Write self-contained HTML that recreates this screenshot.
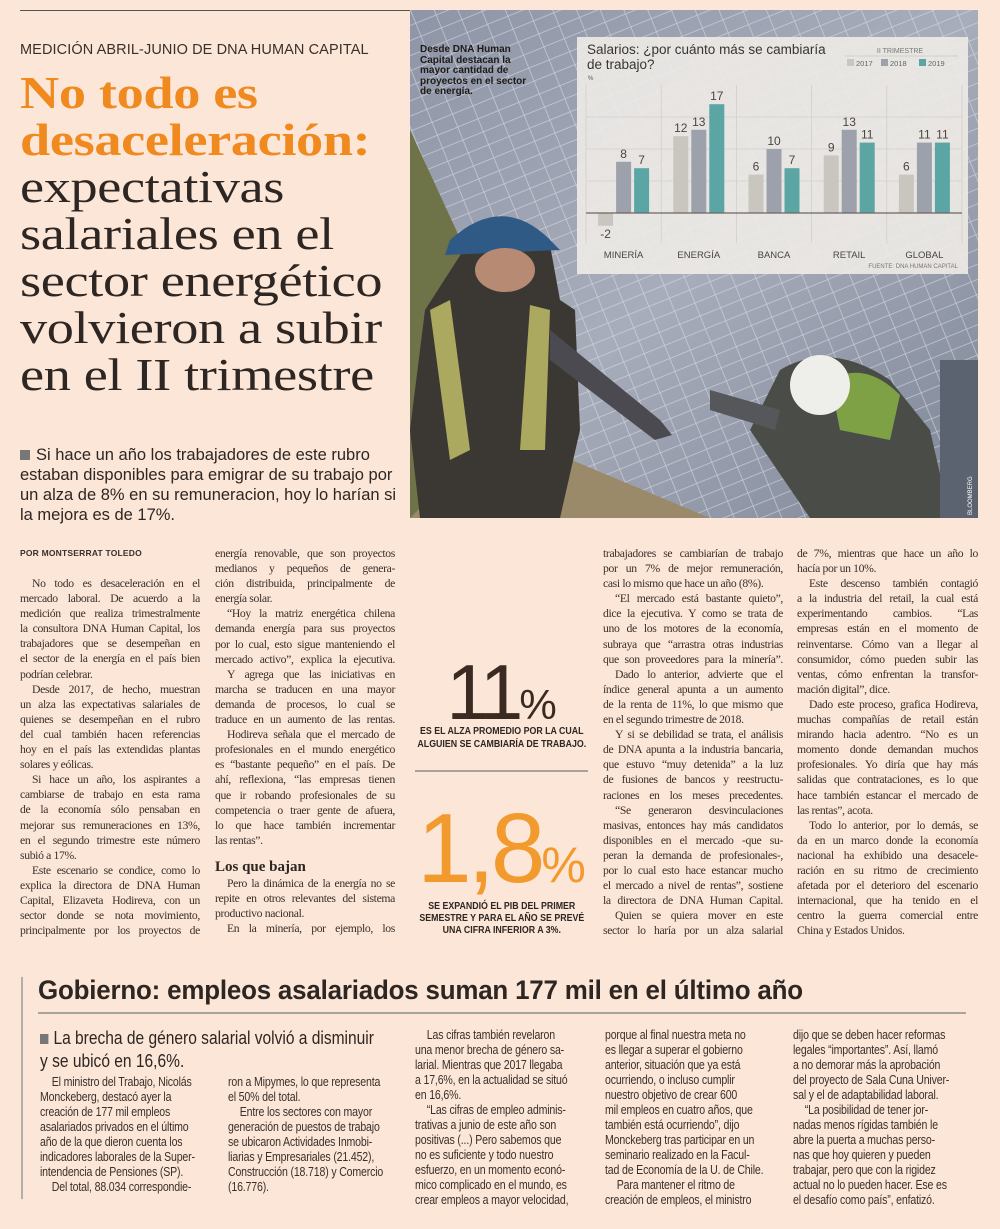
<!DOCTYPE html>
<html><head><meta charset="utf-8">
<style>
*{margin:0;padding:0;box-sizing:border-box}
body{width:1000px;height:1229px;background:#fbe6d8;position:relative;overflow:hidden;font-family:"Liberation Serif",serif;color:#2e2622}
.abs{position:absolute}
.col{position:absolute;font-family:"Liberation Serif",serif;font-size:11.7px;line-height:15.1px;letter-spacing:-0.35px;color:#3a302a}
.col div{text-align:justify;text-align-last:justify;white-space:nowrap}
.col .i{text-indent:12px}
.col .l{text-align-last:left}
.ncol{position:absolute;font-family:"Liberation Sans",sans-serif;font-size:12.6px;line-height:15px;letter-spacing:-0.2px;color:#3a302a;transform:scaleX(0.84);transform-origin:left top}
.ncol div{white-space:nowrap}
.ncol .i{text-indent:14px}
.sans{font-family:"Liberation Sans",sans-serif}
</style></head>
<body>
<div class="abs" style="left:20px;top:10px;width:390px;height:1px;background:#555"></div>
<div class="abs sans" style="left:20px;top:42px;font-size:14.5px;color:#3a302a;letter-spacing:0.1px">MEDICIÓN ABRIL-JUNIO DE DNA HUMAN CAPITAL</div>
<div class="abs" style="left:20px;top:69px;width:340px;font-size:46px;line-height:47px;letter-spacing:-0.3px;transform:scaleX(1.18);transform-origin:left top;white-space:nowrap">
<div style="color:#f0891e;font-weight:bold">No todo es</div>
<div style="color:#f0891e;font-weight:bold">desaceleración:</div>
<div>expectativas</div><div>salariales en el</div><div>sector energético</div><div>volvieron a subir</div><div>en el II trimestre</div>
</div>
<div class="abs sans" style="left:20px;top:445px;width:385px;font-size:16.5px;line-height:20px;color:#2e2622">
<span style="display:inline-block;width:10px;height:10px;background:#777;margin-right:6px"></span>Si hace un año los trabajadores de este rubro estaban disponibles para emigrar de su trabajo por un alza de 8% en su remuneracion, hoy lo harían si la mejora es de 17%.</div>

<svg class="abs" style="left:410px;top:10px" width="568" height="508" viewBox="0 0 568 508">
<defs>
<linearGradient id="sky" x1="0" y1="0" x2="1" y2="1"><stop offset="0" stop-color="#8e95a6"/><stop offset="0.5" stop-color="#a8adbb"/><stop offset="1" stop-color="#7d8596"/></linearGradient>
<pattern id="grid" width="22" height="14" patternUnits="userSpaceOnUse" patternTransform="rotate(-22)"><rect width="22" height="14" fill="none"/><path d="M0 0H22M0 0V14" stroke="#dcdfe6" stroke-width="1.5"/></pattern>
</defs>
<rect width="568" height="508" fill="url(#sky)"/>
<rect width="568" height="508" fill="url(#grid)" opacity="0.7"/>
<path d="M0 120 L60 250 L110 380 L140 508 L0 508Z" fill="#6f7348"/>
<path d="M90 420 L300 508 L0 508Z" fill="#9a8a6a"/>
<path d="M60 230 Q100 200 140 235 L150 290 L165 300 L170 420 L150 508 L10 508 L0 420 L15 300Z" fill="#3b3733"/>
<path d="M20 300 L40 290 L60 440 L40 450Z M120 295 L140 300 L135 440 L110 440Z" fill="#c8c46a" opacity="0.8"/>
<path d="M40 230 Q95 180 145 235 L150 240 L35 245Z" fill="#2f5a86"/>
<ellipse cx="95" cy="260" rx="30" ry="22" fill="#b78a74"/>
<path d="M140 320 L250 410 L262 425 L245 430 L140 350Z" fill="#4b4a50"/>
<path d="M370 360 Q420 330 480 370 L520 420 L540 508 L400 508 L340 420Z" fill="#4a4d47"/>
<path d="M420 370 Q455 350 490 385 L480 430 L430 420Z" fill="#7fa146"/>
<circle cx="410" cy="375" r="30" fill="#eeeeea"/>
<path d="M300 380 L370 400 L365 420 L300 400Z" fill="#55575a"/>
<rect x="530" y="350" width="38" height="158" fill="#5b6270"/>
<text x="562" y="505" transform="rotate(-90 562 505)" font-family="Liberation Sans" font-size="6" fill="#fff">BLOOMBERG</text>
</svg>
<div class="abs sans" style="left:420px;top:45px;width:110px;font-size:10px;line-height:10.5px;font-weight:bold;color:#1e1a18">Desde DNA Human Capital destacan la mayor cantidad de proyectos en el sector de energía.</div>

<svg id="chart" class="abs" style="left:0;top:0" width="1000" height="300"></svg>

<div class="abs sans" style="left:20px;top:548px;font-size:8.5px;font-weight:bold;color:#3a302a;letter-spacing:0.2px">POR MONTSERRAT TOLEDO</div>

<div class="col" style="left:20px;top:576px;width:180px">
<div class="i">No todo es desaceleración en el</div><div>mercado laboral. De acuerdo a la</div><div>medición que realiza trimestralmente</div><div>la consultora DNA Human Capital, los</div><div>trabajadores que se desempeñan en</div><div>el sector de la energía en el país bien</div><div class="l">podrían celebrar.</div>
<div class="i">Desde 2017, de hecho, muestran</div><div>un alza las expectativas salariales de</div><div>quienes se desempeñan en el rubro</div><div>del cual también hacen referencias</div><div>hoy en el país las extendidas plantas</div><div class="l">solares y eólicas.</div>
<div class="i">Si hace un año, los aspirantes a</div><div>cambiarse de trabajo en esta rama</div><div>de la economía sólo pensaban en</div><div>mejorar sus remuneraciones en 13%,</div><div>en el segundo trimestre este número</div><div class="l">subió a 17%.</div>
<div class="i">Este escenario se condice, como lo</div><div>explica la directora de DNA Human</div><div>Capital, Elizaveta Hodireva, con un</div><div>sector donde se nota movimiento,</div><div>principalmente por los proyectos de</div>
</div>
<div class="col" style="left:215px;top:546px;width:180px">
<div>energía renovable, que son proyectos</div><div>medianos y pequeños de genera-</div><div>ción distribuida, principalmente de</div><div class="l">energía solar.</div>
<div class="i">“Hoy la matriz energética chilena</div><div>demanda energía para sus proyectos</div><div>por lo cual, esto sigue manteniendo el</div><div>mercado activo”, explica la ejecutiva.</div>
<div class="i">Y agrega que las iniciativas en</div><div>marcha se traducen en una mayor</div><div>demanda de procesos, lo cual se</div><div>traduce en un aumento de las rentas.</div>
<div class="i">Hodireva señala que el mercado de</div><div>profesionales en el mundo energético</div><div>es “bastante pequeño” en el país. De</div><div>ahí, reflexiona, “las empresas tienen</div><div>que ir robando profesionales de su</div><div>competencia o traer gente de afuera,</div><div>lo que hace también incrementar</div><div class="l">las rentas”.</div>
</div>
<div class="abs" style="left:215px;top:859px;font-size:15px;font-weight:bold;color:#2e2622">Los que bajan</div>
<div class="col" style="left:215px;top:876px;width:180px">
<div class="i">Pero la dinámica de la energía no se</div><div>repite en otros relevantes del sistema</div><div class="l">productivo nacional.</div><div class="i">En la minería, por ejemplo, los</div>
</div>

<div class="abs sans" style="left:415px;top:652px;width:173px;text-align:center;color:#3b2a22;font-size:78px;line-height:80px;letter-spacing:-4px">11<span style="font-size:42px;letter-spacing:0">%</span></div>
<div class="abs sans" style="left:401px;top:725px;width:240px;text-align:center;font-size:10.5px;line-height:12.5px;font-weight:bold;color:#2e2622;transform:scaleX(0.84);transform-origin:left top">ES EL ALZA PROMEDIO POR LA CUAL<br>ALGUIEN SE CAMBIARÍA DE TRABAJO.</div>
<div class="abs" style="left:415px;top:770px;width:173px;height:2px;background:#a9a29c"></div>
<div class="abs sans" style="left:415px;top:798px;width:173px;text-align:center;color:#f29a2e;font-size:98px;line-height:100px;letter-spacing:-4px">1,8<span style="font-size:50px;letter-spacing:0">%</span></div>
<div class="abs sans" style="left:401px;top:900px;width:240px;text-align:center;font-size:10.5px;line-height:12px;font-weight:bold;color:#2e2622;transform:scaleX(0.84);transform-origin:left top">SE EXPANDIÓ EL PIB DEL PRIMER<br>SEMESTRE Y PARA EL AÑO SE PREVÉ<br>UNA CIFRA INFERIOR A 3%.</div>

<div class="col" style="left:603px;top:546px;width:180px">
<div>trabajadores se cambiarían de trabajo</div><div>por un 7% de mejor remuneración,</div><div class="l">casi lo mismo que hace un año (8%).</div>
<div class="i">“El mercado está bastante quieto”,</div><div>dice la ejecutiva. Y como se trata de</div><div>uno de los motores de la economía,</div><div>subraya que “arrastra otras industrias</div><div>que son proveedores para la minería”.</div>
<div class="i">Dado lo anterior, advierte que el</div><div>índice general apunta a un aumento</div><div>de la renta de 11%, lo que mismo que</div><div class="l">en el segundo trimestre de 2018.</div>
<div class="i">Y si se debilidad se trata, el análisis</div><div>de DNA apunta a la industria bancaria,</div><div>que estuvo “muy detenida” a la luz</div><div>de fusiones de bancos y reestructu-</div><div>raciones en los meses precedentes.</div>
<div class="i">“Se generaron desvinculaciones</div><div>masivas, entonces hay más candidatos</div><div>disponibles en el mercado -que su-</div><div>peran la demanda de profesionales-,</div><div>por lo cual esto hace estancar mucho</div><div>el mercado a nivel de rentas”, sostiene</div><div>la directora de DNA Human Capital.</div>
<div class="i">Quien se quiera mover en este</div><div>sector lo haría por un alza salarial</div>
</div>
<div class="col" style="left:797px;top:546px;width:181px">
<div>de 7%, mientras que hace un año lo</div><div class="l">hacía por un 10%.</div>
<div class="i">Este descenso también contagió</div><div>a la industria del retail, la cual está</div><div>experimentando cambios. “Las</div><div>empresas están en el momento de</div><div>reinventarse. Cómo van a llegar al</div><div>consumidor, cómo pueden subir las</div><div>ventas, cómo enfrentan la transfor-</div><div class="l">mación digital”, dice.</div>
<div class="i">Dado este proceso, grafica Hodireva,</div><div>muchas compañías de retail están</div><div>mirando hacia adentro. “No es un</div><div>momento donde demandan muchos</div><div>profesionales. Yo diría que hay más</div><div>salidas que contrataciones, es lo que</div><div>hace también estancar el mercado de</div><div class="l">las rentas”, acota.</div>
<div class="i">Todo lo anterior, por lo demás, se</div><div>da en un marco donde la economía</div><div>nacional ha exhibido una desacele-</div><div>ración en su ritmo de crecimiento</div><div>afetada por el deterioro del escenario</div><div>internacional, que ha tenido en el</div><div>centro la guerra comercial entre</div><div class="l">China y Estados Unidos.</div>
</div>

<div class="abs" style="left:21px;top:977px;width:2px;height:222px;background:#b5aea8"></div>
<div class="abs" style="left:38px;top:975px;font-size:27px;font-weight:bold;color:#2e2622;letter-spacing:-0.2px;font-family:'Liberation Sans',sans-serif;transform:scaleX(0.96);transform-origin:left;white-space:nowrap">Gobierno: empleos asalariados suman 177 mil en el último año</div>
<div class="abs" style="left:38px;top:1012px;width:928px;height:2px;background:#aaa39d"></div>
<div class="abs" style="left:40px;top:1026px;width:430px;font-family:'Liberation Sans',sans-serif;font-size:18.5px;line-height:23px;color:#2e2622;transform:scaleX(0.84);transform-origin:left top"><span style="display:inline-block;width:10px;height:10px;background:#777;margin-right:6px"></span>La brecha de género salarial volvió a disminuir<br>y se ubicó en 16,6%.</div>
<div class="ncol" style="left:40px;top:1075px;width:196px">
<div class="i">El ministro del Trabajo, Nicolás</div><div>Monckeberg, destacó ayer la</div><div>creación de 177 mil empleos</div><div>asalariados privados en el último</div><div>año de la que dieron cuenta los</div><div>indicadores laborales de la Super-</div><div>intendencia de Pensiones (SP).</div><div class="i">Del total,  88.034 correspondie-</div>
</div>
<div class="ncol" style="left:228px;top:1075px;width:202px">
<div>ron a Mipymes, lo que representa</div><div>el 50% del total.</div><div class="i">Entre los sectores con mayor</div><div>generación de puestos de trabajo</div><div>se ubicaron Actividades Inmobi-</div><div>liarias y Empresariales (21.452),</div><div>Construcción (18.718) y Comercio</div><div>(16.776).</div>
</div>
<div class="ncol" style="left:415px;top:1028px;width:208px">
<div class="i">Las cifras también revelaron</div><div>una menor brecha de género sa-</div><div>larial. Mientras que 2017 llegaba</div><div>a 17,6%, en la actualidad se situó</div><div>en 16,6%.</div><div class="i">“Las cifras de empleo adminis-</div><div>trativas a junio de este año son</div><div>positivas (...) Pero sabemos que</div><div>no es suficiente y todo nuestro</div><div>esfuerzo, en un momento econó-</div><div>mico complicado en el mundo, es</div><div>crear empleos a mayor velocidad,</div>
</div>
<div class="ncol" style="left:605px;top:1028px;width:212px">
<div>porque al final nuestra meta no</div><div>es llegar a superar el gobierno</div><div>anterior, situación que ya está</div><div>ocurriendo, o incluso cumplir</div><div>nuestro objetivo de crear 600</div><div>mil empleos en cuatro años, que</div><div>también está ocurriendo”, dijo</div><div>Monckeberg tras participar en un</div><div>seminario realizado en la Facul-</div><div>tad de Economía de la U. de Chile.</div><div class="i">Para mantener el ritmo de</div><div>creación de empleos, el ministro</div>
</div>
<div class="ncol" style="left:793px;top:1028px;width:214px">
<div>dijo que se deben hacer reformas</div><div>legales “importantes”. Así, llamó</div><div>a no demorar más la aprobación</div><div>del proyecto de Sala Cuna Univer-</div><div>sal y el de adaptabilidad laboral.</div><div class="i">“La posibilidad de tener jor-</div><div>nadas menos rígidas también le</div><div>abre la puerta a muchas perso-</div><div>nas que hoy quieren y pueden</div><div>trabajar, pero que con la rigidez</div><div>actual no lo pueden hacer. Ese es</div><div>el desafío como país”, enfatizó.</div>
</div>

<script>
const categories = ["MINERÍA","ENERGÍA","BANCA","RETAIL","GLOBAL"];
const years = ["2017","2018","2019"];
const values2017 = [-2,12,6,9,6];
const values2018 = [8,13,10,13,11];
const values2019 = [7,17,7,11,11];
const gridTicks = [5,10,15];

const svg = document.getElementById('chart');
const NS = 'http://www.w3.org/2000/svg';
function mk(tag, attrs, parent){const e=document.createElementNS(NS,tag);for(const k in attrs)e.setAttribute(k,attrs[k]);(parent||svg).appendChild(e);return e;}
const plotL=586, plotR=962, baseY=213, unit=6.4;
const groupW=(plotR-plotL)/categories.length;
const y = v => baseY - v*unit;
const xc = i => plotL + groupW*(i+0.5);
const colors=["#c9c5bf","#9ca1ab","#5ba6a4"];
const series=[values2017,values2018,values2019];

const box = mk('rect',{x:577,y:37,width:391,height:237,fill:'#eeebe7',opacity:0.9});


const t1 = mk('text',{x:587,y:54,'font-family':'Liberation Sans','font-size':13.5,fill:'#3a3430'});
t1.textContent='Salarios: ¿por cuánto más se cambiaría';


const t2 = mk('text',{x:587,y:69,'font-family':'Liberation Sans','font-size':13.5,fill:'#3a3430'});
t2.textContent='de trabajo?';


const pu = mk('text',{x:588,y:80,'font-family':'Liberation Sans','font-size':6,fill:'#555'});
pu.textContent='%';


const lt = mk('text',{x:900,y:53,'text-anchor':'middle','font-family':'Liberation Sans','font-size':7,fill:'#777'});
lt.textContent='II TRIMESTRE';


mk('line',{x1:845,x2:958,y1:56,y2:56,stroke:'#bbb','stroke-width':0.6});
const lx=[847,881,919];
years.forEach((yr,i)=>{
  const g=mk('g',{});
  
  
  mk('rect',{x:lx[i],y:59,width:7,height:7,fill:colors[i]},g);
  const tx=mk('text',{x:lx[i]+9,y:66,'font-family':'Liberation Sans','font-size':7.5,fill:'#666'},g);
  tx.textContent=yr;
});
gridTicks.forEach(v=>{
  const l=mk('line',{x1:plotL,x2:plotR,y1:y(v),y2:y(v),stroke:'#d2cfcb','stroke-width':0.8});
  
  
});
for(let i=0;i<=categories.length;i++){
  const gx=plotL+groupW*i;
  const l=mk('line',{x1:gx,x2:gx,y1:y(20),y2:baseY+30,stroke:'#d2cfcb','stroke-width':0.8});
  
  
}
categories.forEach((c,i)=>{
  series.forEach((s,j)=>{
    const v=s[i]; const bx=xc(i)+(j-1)*18-7.5;
    const top=Math.min(y(v),baseY), h=Math.abs(y(v)-baseY);
    const r=mk('rect',{x:bx,y:top,width:15,height:h,fill:colors[j]});
    
    
    const ly = v>=0 ? y(v)-4 : y(v)+12;
    const lb=mk('text',{x:bx+7.5,y:ly,'text-anchor':'middle','font-family':'Liberation Sans','font-size':12,fill:'#4a4541'});
    lb.textContent=String(v);
    
    
  });
  const cl=mk('text',{x:xc(i),y:258,'text-anchor':'middle','font-family':'Liberation Sans','font-size':9.5,fill:'#4a4541'});
  cl.textContent=c;
  
  
});
const zl=mk('line',{x1:plotL,x2:plotR,y1:baseY,y2:baseY,stroke:'#6e6560','stroke-width':1.2});


const src=mk('text',{x:958,y:268,'text-anchor':'end','font-family':'Liberation Sans','font-size':6,fill:'#777'});
src.textContent='FUENTE: DNA HUMAN CAPITAL';


</script>
</body></html>
